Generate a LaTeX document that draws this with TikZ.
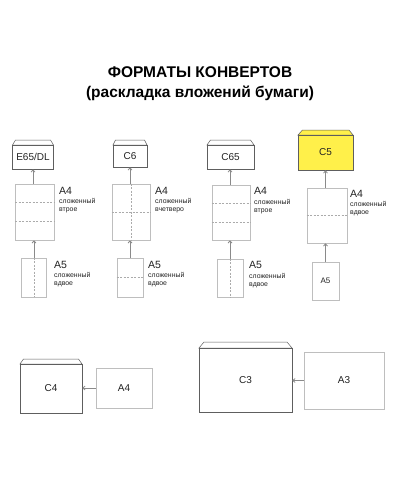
\documentclass[tikz,border=0pt]{standalone}
\usepackage{fontspec}
\setmainfont{Liberation Sans}
\usetikzlibrary{arrows.meta,calc}
\definecolor{envc}{HTML}{5E5E5E}
\definecolor{paperc}{HTML}{BEBEBE}
\definecolor{foldc}{HTML}{ABABAB}
\definecolor{arrc}{HTML}{8A8A8A}
\definecolor{txtc}{HTML}{222222}
\definecolor{yel}{HTML}{FFF04A}
\begin{document}
\begin{tikzpicture}[x=1pt,y=-1pt,
  env/.style={draw=envc,line width=0.7pt,fill=white,inner sep=0pt,text=txtc,font=\fontsize{10}{10}\selectfont},
  flap/.style={draw=envc,line width=0.5pt,fill=white},
  paper/.style={draw=paperc,line width=0.6pt,fill=white,inner sep=0pt,text=txtc},
  fold/.style={draw=foldc,line width=0.45pt,dash pattern=on 2pt off 1.5pt},
  arr/.style={draw=arrc,line width=0.8pt,-{Straight Barb[length=2.2pt,width=4pt]}},
  big/.style={anchor=base west,inner sep=0pt,text=txtc,font=\fontsize{10.5}{11}\selectfont},
  small/.style={anchor=base west,inner sep=0pt,text=txtc,font=\fontsize{6.9}{7}\selectfont},
  title/.style={inner sep=0pt,anchor=base,text=black,font=\bfseries\fontsize{15.5}{16}\selectfont}
]
\useasboundingbox[fill=white] (0,0) rectangle (400,500);

% title
\node[title] (t1) at (200,78) {ФОРМАТЫ КОНВЕРТОВ};
\node[title] (t2) at (200,97.5) {(раскладка вложений бумаги)};

% ---------- column 1: E65/DL ----------
\filldraw[flap] (12.5,145) -- (15.5,140) -- (50.5,140) -- (53.5,145) -- cycle;
\node[env,minimum width=41pt,minimum height=24pt] (e1) at (33,157) {E65/DL};
\node[paper,minimum width=39pt,minimum height=56pt] (p1) at (35,212) {};
\draw[fold] ($(p1.north west)!1/3!(p1.south west)$) -- ($(p1.north east)!1/3!(p1.south east)$);
\draw[fold] ($(p1.north west)!2/3!(p1.south west)$) -- ($(p1.north east)!2/3!(p1.south east)$);
\node[paper,minimum width=25pt,minimum height=39pt] (q1) at (34,277.5) {};
\draw[fold] (q1.north) -- (q1.south);
\draw[arr] (p1.north -| e1.south) -- (e1.south);
\draw[arr] (q1.north) -- (q1.north |- p1.south);
\node[big] (l1a) at (59,194) {A4};
\node[small] (l1b) at (59,203.5) {сложенный};
\node[small] (l1c) at (59,211.5) {втрое};
\node[big] (m1a) at (54,268) {A5};
\node[small] (m1b) at (54,277.5) {сложенный};
\node[small] (m1c) at (54,285.5) {вдвое};

% ---------- column 2: C6 ----------
\filldraw[flap] (113,145) -- (115.5,140) -- (144.5,140) -- (147,145) -- cycle;
\node[env,minimum width=34pt,minimum height=22pt] (e2) at (130,156) {C6};
\node[paper,minimum width=38pt,minimum height=56pt] (p2) at (131,212) {};
\draw[fold] (p2.west) -- (p2.east);
\draw[fold] (p2.north) -- (p2.south);
\node[paper,minimum width=26pt,minimum height=39pt] (q2) at (130,277.5) {};
\draw[fold] (q2.west) -- (q2.east);
\draw[arr] (p2.north -| e2.south) -- (e2.south);
\draw[arr] (q2.north) -- (q2.north |- p2.south);
\node[big] (l2a) at (155,194) {A4};
\node[small] (l2b) at (155,203.5) {сложенный};
\node[small] (l2c) at (155,211.5) {вчетверо};
\node[big] (m2a) at (148,268) {A5};
\node[small] (m2b) at (148,277.5) {сложенный};
\node[small] (m2c) at (148,285.5) {вдвое};

% ---------- column 3: C65 ----------
\filldraw[flap] (207,145) -- (210.5,140) -- (250.5,140) -- (254,145) -- cycle;
\node[env,minimum width=47pt,minimum height=24pt] (e3) at (230.5,157) {C65};
\node[paper,minimum width=38pt,minimum height=55pt] (p3) at (231,212.5) {};
\draw[fold] ($(p3.north west)!1/3!(p3.south west)$) -- ($(p3.north east)!1/3!(p3.south east)$);
\draw[fold] ($(p3.north west)!2/3!(p3.south west)$) -- ($(p3.north east)!2/3!(p3.south east)$);
\node[paper,minimum width=26pt,minimum height=38pt] (q3) at (230,278) {};
\draw[fold] (q3.north) -- (q3.south);
\draw[arr] (p3.north -| q3.north) -- (q3.north |- e3.south);
\draw[arr] (q3.north) -- (q3.north |- p3.south);
\node[big] (l3a) at (254,194.5) {A4};
\node[small] (l3b) at (254,204) {сложенный};
\node[small] (l3c) at (254,212) {втрое};
\node[big] (m3a) at (249,268.5) {A5};
\node[small] (m3b) at (249,278) {сложенный};
\node[small] (m3c) at (249,286) {вдвое};

% ---------- column 4: C5 ----------
\filldraw[flap,fill=yel] (298,135) -- (302.5,130) -- (349,130) -- (353,135) -- cycle;
\node[env,fill=yel,minimum width=55pt,minimum height=35pt] (e4) at (325.5,152.5) {C5};
\node[paper,minimum width=40pt,minimum height=55pt] (p4) at (327,215.5) {};
\draw[fold] (p4.west) -- (p4.east);
\node[paper,minimum width=27pt,minimum height=38pt,font=\fontsize{8}{9}\selectfont] (q4) at (325.5,281) {A5};
\draw[arr] (p4.north -| q4.north) -- (q4.north |- e4.south);
\draw[arr] (q4.north) -- (q4.north |- p4.south);
\node[big] (l4a) at (350,197) {A4};
\node[small] (l4b) at (350,206.5) {сложенный};
\node[small] (l4c) at (350,214.5) {вдвое};

% ---------- bottom: C4 / A4 ----------
\filldraw[flap] (20,364) -- (23.5,359) -- (78.5,359) -- (82,364) -- cycle;
\node[env,minimum width=62pt,minimum height=49pt] (e5) at (51,388.5) {C4};
\node[paper,minimum width=56pt,minimum height=40pt,font=\fontsize{10}{10}\selectfont] (p5) at (124,388) {A4};
\draw[arr] (p5.west) -- (e5.east |- p5.west);

% ---------- bottom: C3 / A3 ----------
\filldraw[flap] (199,348) -- (204,342) -- (287,342) -- (292,348) -- cycle;
\node[env,minimum width=93pt,minimum height=64pt] (e6) at (245.5,380) {C3};
\node[paper,minimum width=80pt,minimum height=57pt,font=\fontsize{10}{10}\selectfont] (p6) at (344,380.5) {A3};
\draw[arr] (p6.west) -- (e6.east |- p6.west);
\end{tikzpicture}
\end{document}
